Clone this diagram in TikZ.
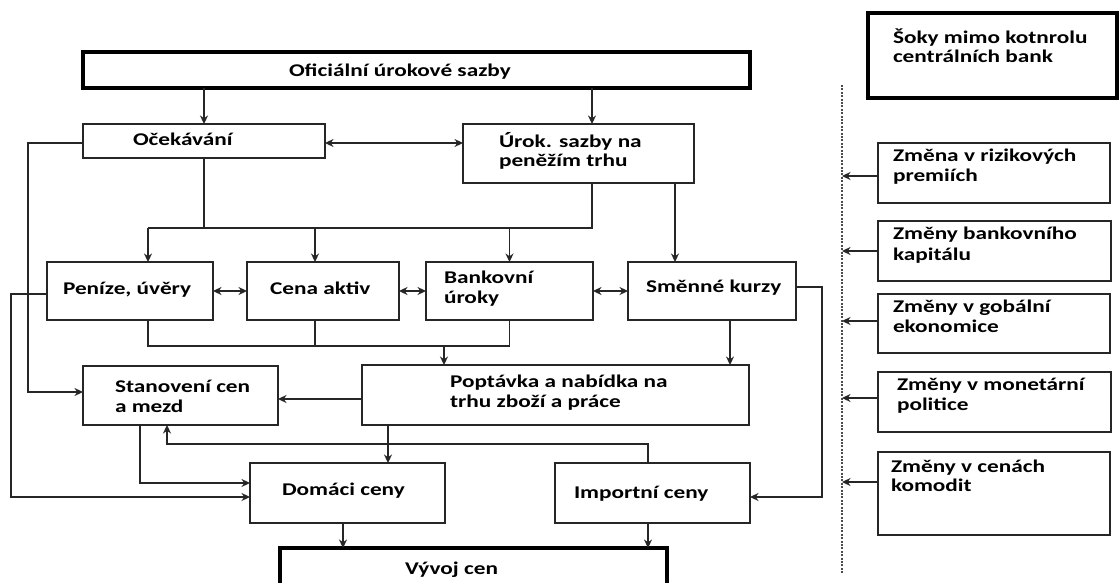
\documentclass[tikz,border=0pt]{standalone}
\usepackage{fontspec}
\newfontfamily\cf[FakeStretch=1.3]{Carlito Bold}
\usetikzlibrary{arrows.meta}
\newcommand\mkbox[6]{\node[#1, minimum width={#4-#2}, minimum height={#5-#3}] (#6) at (#2,#3) {};}
\newcommand\tx[4]{\node[txt] (#1) at (#2,#3) {#4};}
\begin{document}
\begin{tikzpicture}[x=1pt,y=-1pt,
  box/.style={draw=black!85, line width=1.7pt, inner sep=0, outer sep=0, anchor=north west, rectangle},
  thickbox/.style={box, draw=black, line width=3.5pt},
  txt/.style={anchor=base west, inner sep=0, outer sep=0, text=black, font=\cf\fontsize{17.9}{20}\selectfont},
  line/.style={draw=black!85, line width=1.4pt},
  tip/.tip={Stealth[length=8.5pt,width=8pt]},
  arr/.style={line, -tip},
  darr/.style={line, tip-tip}]
\useasboundingbox (0,0) rectangle (1120,583);
\fill[white] (0,0) rectangle (1120,583);
% boxes
\mkbox{thickbox}{83}{52}{750}{88}{top}
\mkbox{box}{83}{124}{325}{158}{oce}
\mkbox{box}{463}{124}{694}{183}{urok}
\mkbox{box}{47}{262}{213}{320}{pen}
\mkbox{box}{247}{262}{399}{320}{cena}
\mkbox{box}{426}{262}{593}{320}{bank}
\mkbox{box}{628}{262}{796}{320}{smen}
\mkbox{box}{83}{366}{278}{425}{stan}
\mkbox{box}{362}{365}{749}{425}{popt}
\mkbox{box}{250}{463}{445}{523}{dom}
\mkbox{box}{555}{463}{750}{523}{imp}
\mkbox{thickbox}{280}{548}{667}{600}{vyv}
\mkbox{thickbox}{868}{13}{1117}{98}{soky}
\mkbox{box}{878}{143}{1110}{203}{r1}
\mkbox{box}{878}{221}{1111}{281}{r2}
\mkbox{box}{878}{294}{1110}{353}{r3}
\mkbox{box}{878}{372}{1111}{432}{r4}
\mkbox{box}{878}{452}{1110}{535}{r5}
% texts
\tx{t1}{289}{77}{Oficiální úrokové sazby}
\tx{t2}{133}{146}{Očekávání}
\tx{t3a}{499}{148}{Úrok. sazby na}
\tx{t3b}{499}{167}{peněžím trhu}
\tx{t4}{63}{294}{Peníze, úvěry}
\tx{t5}{270}{294}{Cena aktiv}
\tx{t6a}{444}{283}{Bankovní}
\tx{t6b}{444}{303}{úroky}
\tx{t7}{646}{292}{Směnné kurzy}
\tx{t8a}{115}{392}{Stanovení cen}
\tx{t8b}{115}{412}{a mezd}
\tx{t9a}{450}{387}{Poptávka a nabídka na}
\tx{t9b}{450}{407}{trhu zboží a práce}
\tx{t10}{282}{495}{Domáci ceny}
\tx{t11}{574}{498}{Importní ceny}
\tx{t12}{405}{574}{Vývoj cen}
\tx{t13a}{893}{44}{Šoky mimo kotnrolu}
\tx{t13b}{893}{63}{centrálních bank}
\tx{t14a}{893}{162}{Změna v rizikových}
\tx{t14b}{893}{182}{premiích}
\tx{t15a}{893}{240}{Změny bankovního}
\tx{t15b}{893}{260}{kapitálu}
\tx{t16a}{893}{312}{Změny v gobální}
\tx{t16b}{893}{332}{ekonomice}
\tx{t17a}{897}{390}{Změny v monetární}
\tx{t17b}{897}{410}{politice}
\tx{t18a}{891}{472}{Změny v cenách}
\tx{t18b}{891}{491}{komodit}
% helper coordinates
\coordinate (bus1) at (0,228);
\coordinate (bus2) at (0,346);
\coordinate (dtop) at (842,85);
\coordinate (dbot) at (842,573);
% connectors
\draw[arr] (oce.north |- top.south) -- (oce.north);
\draw[arr] ([xshift=13.5pt]urok.north |- top.south) -- ([xshift=13.5pt]urok.north);
\draw[darr] ([yshift=-2pt]oce.east) -- ([yshift=-2pt]oce.east -| urok.west);
\draw[arr] ([yshift=-2pt]oce.west) -- ++(-55,0) |- ([yshift=3.5pt]stan.west);
\draw[line] (oce.south) -- (oce.south |- bus1);
\draw[line] ([xshift=13.5pt]urok.south) -- ([xshift=13.5pt]urok.south |- bus1) -- ([xshift=18pt]pen.north |- bus1);
\draw[arr] ([xshift=18pt]pen.north |- bus1) -- ([xshift=18pt]pen.north);
\draw[arr] ([xshift=-8pt]cena.north |- bus1) -- ([xshift=-8pt]cena.north);
\draw[arr] (bank.north |- bus1) -- (bank.north);
\draw[arr] ([xshift=-37pt]smen.north |- urok.south) -- ([xshift=-37pt]smen.north);
\draw[darr] (pen.east) -- (cena.west);
\draw[darr] (cena.east) -- (bank.west);
\draw[darr] (bank.east) -- (smen.west);
\draw[arr] ([yshift=-3pt]pen.west) -- ++(-36,0) |- ([yshift=-4pt]dom.west);
\draw[line] ([xshift=18pt]pen.south) -- ([xshift=18pt]pen.south |- bus2) -- (bank.south |- bus2) -- (bank.south);
\draw[line] ([xshift=-8pt]cena.south) -- ([xshift=-8pt]cena.south |- bus2);
\draw[arr] ([xshift=-111.5pt]popt.north |- bus2) -- ([xshift=-111.5pt]popt.north);
\draw[arr] ([xshift=18pt]smen.south) -- ([xshift=18pt]smen.south |- popt.north);
\draw[arr] ([yshift=4pt]smen.east) -- ++(26,0) |- ([yshift=-4pt]imp.east);
\draw[arr] ([yshift=-4pt]popt.west) -- ([yshift=-4pt]popt.west -| stan.east);
\draw[arr] ([xshift=40.5pt]dom.north |- popt.south) -- ([xshift=40.5pt]dom.north);
\draw[arr] ([xshift=-4.5pt]imp.north) -- ++(0,-19) -| ([xshift=-13.5pt]stan.south);
\draw[arr] ([xshift=-40.5pt]stan.south) |- ([yshift=10pt]dom.west);
\draw[arr] ([xshift=-4.5pt]dom.south) -- ([xshift=-4.5pt]dom.south |- vyv.north);
\draw[arr] ([xshift=-4.5pt]imp.south) -- ([xshift=-4.5pt]imp.south |- vyv.north);
% dotted separator
\draw[black!70, line width=2.4pt, dash pattern=on 2pt off 1.4pt] (dtop) -- (dbot);
\draw[arr] ([yshift=-3pt]r1.west) -- ([yshift=-3pt]r1.west -| dtop);
\draw[arr] (r2.west) -- (r2.west -| dtop);
\draw[arr] ([yshift=2.5pt]r3.west) -- ([yshift=2.5pt]r3.west -| dtop);
\draw[arr] ([yshift=4pt]r4.west) -- ([yshift=4pt]r4.west -| dtop);
\draw[arr] ([yshift=11.5pt]r5.west) -- ([yshift=11.5pt]r5.west -| dtop);
\end{tikzpicture}
\end{document}
